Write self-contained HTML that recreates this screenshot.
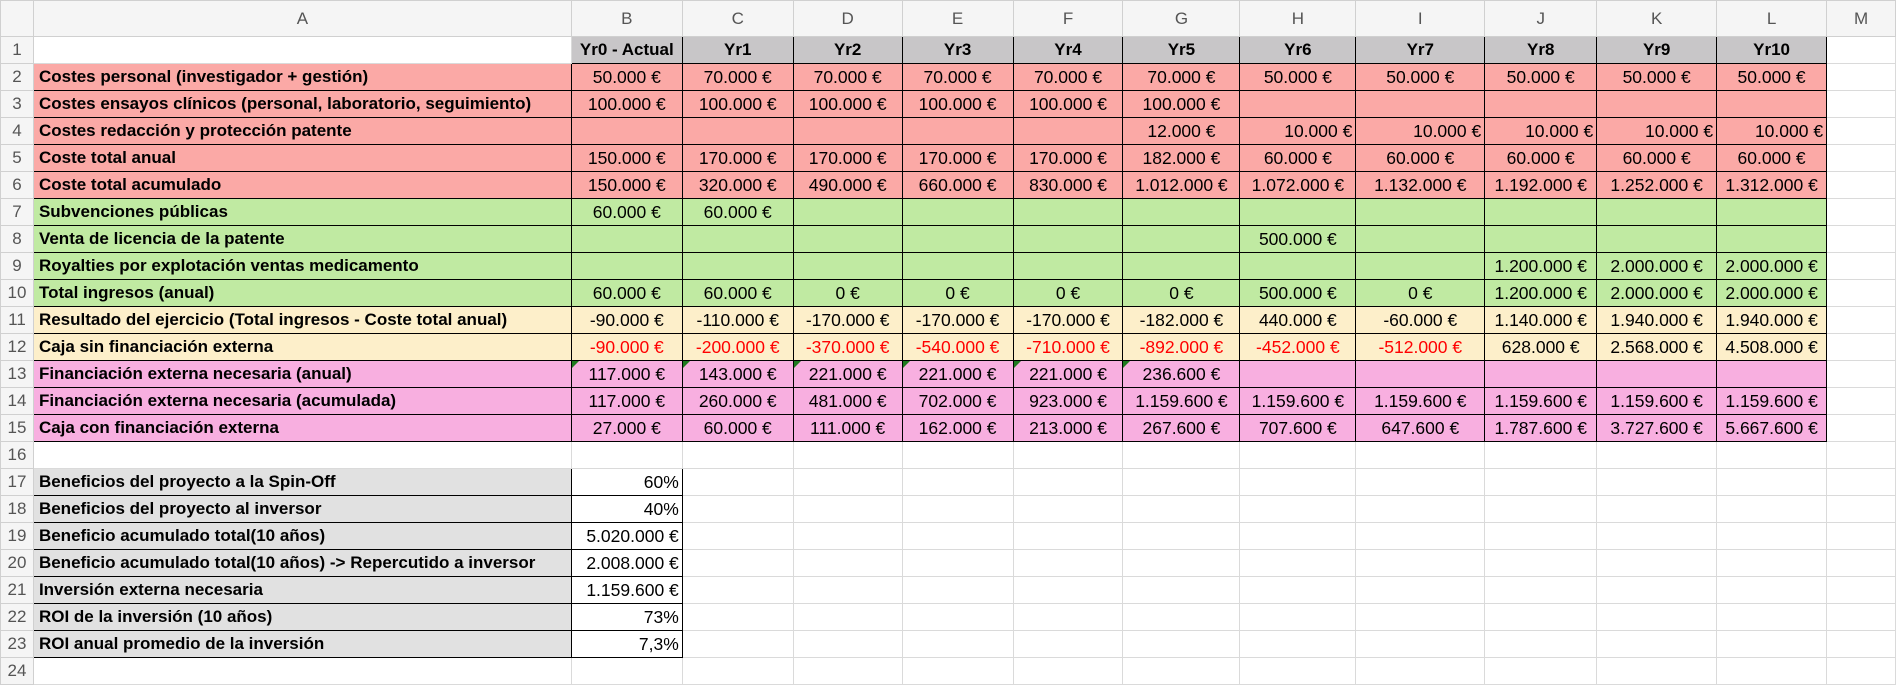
<!DOCTYPE html>
<html><head><meta charset="utf-8"><style>
html,body{margin:0;width:1896px;height:689px;overflow:hidden;background:#fff;font-family:"Liberation Sans",Arial,sans-serif;}
table{border-collapse:collapse;table-layout:fixed;position:absolute;left:0;top:0;}
td{height:26px;padding:0 3px;font-size:17.5px;white-space:nowrap;overflow:hidden;border:1px solid #dadada;text-align:center;color:#000;position:relative;line-height:26px;}
tr.h td{height:35px;background:#f5f5f5;color:#555;font-size:17px;border-color:#d0d0d0;}
td.n{background:#f5f5f5;color:#555;font-size:17px;text-align:center;padding:0;border-color:#d0d0d0;}
td.b{border:1px solid #000;}
td.l{text-align:left;font-weight:bold;padding-left:5px;font-size:17px;}
td.r{text-align:right;}
.g{background:#c8c6c8;font-weight:bold;font-size:17px !important;}
.R td.c{background:#fba9a6;}
.G td.c{background:#c0eaa2;}
.Y td.c{background:#fdefca;}
.P td.c{background:#f8afe0;}
.neg{color:#f00;}
.gr{background:#e1e1e1;}
.t::before{content:"";position:absolute;left:0;top:0;border-top:7px solid #1f7a1f;border-right:7px solid transparent;}
</style></head><body>
<table>
<colgroup><col style="width:33px"><col style="width:538px"><col style="width:111px"><col style="width:111px"><col style="width:109px"><col style="width:111px"><col style="width:110px"><col style="width:117px"><col style="width:116px"><col style="width:129px"><col style="width:112px"><col style="width:120px"><col style="width:110px"><col style="width:69px"></colgroup>
<tr class="h"><td></td><td>A</td><td>B</td><td>C</td><td>D</td><td>E</td><td>F</td><td>G</td><td>H</td><td>I</td><td>J</td><td>K</td><td>L</td><td>M</td></tr>
<tr><td class="n">1</td><td></td><td class="b g">Yr0 - Actual</td><td class="b g">Yr1</td><td class="b g">Yr2</td><td class="b g">Yr3</td><td class="b g">Yr4</td><td class="b g">Yr5</td><td class="b g">Yr6</td><td class="b g">Yr7</td><td class="b g">Yr8</td><td class="b g">Yr9</td><td class="b g">Yr10</td><td></td></tr>
<tr class="R"><td class="n">2</td><td class="b c l">Costes personal (investigador + gestión)</td><td class="b c">50.000 €</td><td class="b c">70.000 €</td><td class="b c">70.000 €</td><td class="b c">70.000 €</td><td class="b c">70.000 €</td><td class="b c">70.000 €</td><td class="b c">50.000 €</td><td class="b c">50.000 €</td><td class="b c">50.000 €</td><td class="b c">50.000 €</td><td class="b c">50.000 €</td><td></td></tr>
<tr class="R"><td class="n">3</td><td class="b c l">Costes ensayos clínicos (personal, laboratorio, seguimiento)</td><td class="b c">100.000 €</td><td class="b c">100.000 €</td><td class="b c">100.000 €</td><td class="b c">100.000 €</td><td class="b c">100.000 €</td><td class="b c">100.000 €</td><td class="b c"></td><td class="b c"></td><td class="b c"></td><td class="b c"></td><td class="b c"></td><td></td></tr>
<tr class="R"><td class="n">4</td><td class="b c l">Costes redacción y protección patente</td><td class="b c"></td><td class="b c"></td><td class="b c"></td><td class="b c"></td><td class="b c"></td><td class="b c">12.000 €</td><td class="b c r">10.000 €</td><td class="b c r">10.000 €</td><td class="b c r">10.000 €</td><td class="b c r">10.000 €</td><td class="b c r">10.000 €</td><td></td></tr>
<tr class="R"><td class="n">5</td><td class="b c l">Coste total anual</td><td class="b c">150.000 €</td><td class="b c">170.000 €</td><td class="b c">170.000 €</td><td class="b c">170.000 €</td><td class="b c">170.000 €</td><td class="b c">182.000 €</td><td class="b c">60.000 €</td><td class="b c">60.000 €</td><td class="b c">60.000 €</td><td class="b c">60.000 €</td><td class="b c">60.000 €</td><td></td></tr>
<tr class="R"><td class="n">6</td><td class="b c l">Coste total acumulado</td><td class="b c">150.000 €</td><td class="b c">320.000 €</td><td class="b c">490.000 €</td><td class="b c">660.000 €</td><td class="b c">830.000 €</td><td class="b c">1.012.000 €</td><td class="b c">1.072.000 €</td><td class="b c">1.132.000 €</td><td class="b c">1.192.000 €</td><td class="b c">1.252.000 €</td><td class="b c">1.312.000 €</td><td></td></tr>
<tr class="G"><td class="n">7</td><td class="b c l">Subvenciones públicas</td><td class="b c">60.000 €</td><td class="b c">60.000 €</td><td class="b c"></td><td class="b c"></td><td class="b c"></td><td class="b c"></td><td class="b c"></td><td class="b c"></td><td class="b c"></td><td class="b c"></td><td class="b c"></td><td></td></tr>
<tr class="G"><td class="n">8</td><td class="b c l">Venta de licencia de la patente</td><td class="b c"></td><td class="b c"></td><td class="b c"></td><td class="b c"></td><td class="b c"></td><td class="b c"></td><td class="b c">500.000 €</td><td class="b c"></td><td class="b c"></td><td class="b c"></td><td class="b c"></td><td></td></tr>
<tr class="G"><td class="n">9</td><td class="b c l">Royalties por explotación ventas medicamento</td><td class="b c"></td><td class="b c"></td><td class="b c"></td><td class="b c"></td><td class="b c"></td><td class="b c"></td><td class="b c"></td><td class="b c"></td><td class="b c">1.200.000 €</td><td class="b c">2.000.000 €</td><td class="b c">2.000.000 €</td><td></td></tr>
<tr class="G"><td class="n">10</td><td class="b c l">Total ingresos (anual)</td><td class="b c">60.000 €</td><td class="b c">60.000 €</td><td class="b c">0 €</td><td class="b c">0 €</td><td class="b c">0 €</td><td class="b c">0 €</td><td class="b c">500.000 €</td><td class="b c">0 €</td><td class="b c">1.200.000 €</td><td class="b c">2.000.000 €</td><td class="b c">2.000.000 €</td><td></td></tr>
<tr class="Y"><td class="n">11</td><td class="b c l">Resultado del ejercicio (Total ingresos - Coste total anual)</td><td class="b c">-90.000 €</td><td class="b c">-110.000 €</td><td class="b c">-170.000 €</td><td class="b c">-170.000 €</td><td class="b c">-170.000 €</td><td class="b c">-182.000 €</td><td class="b c">440.000 €</td><td class="b c">-60.000 €</td><td class="b c">1.140.000 €</td><td class="b c">1.940.000 €</td><td class="b c">1.940.000 €</td><td></td></tr>
<tr class="Y"><td class="n">12</td><td class="b c l">Caja sin financiación externa</td><td class="b c neg">-90.000 €</td><td class="b c neg">-200.000 €</td><td class="b c neg">-370.000 €</td><td class="b c neg">-540.000 €</td><td class="b c neg">-710.000 €</td><td class="b c neg">-892.000 €</td><td class="b c neg">-452.000 €</td><td class="b c neg">-512.000 €</td><td class="b c">628.000 €</td><td class="b c">2.568.000 €</td><td class="b c">4.508.000 €</td><td></td></tr>
<tr class="P"><td class="n">13</td><td class="b c l">Financiación externa necesaria (anual)</td><td class="b c t">117.000 €</td><td class="b c t">143.000 €</td><td class="b c t">221.000 €</td><td class="b c t">221.000 €</td><td class="b c t">221.000 €</td><td class="b c t">236.600 €</td><td class="b c"></td><td class="b c"></td><td class="b c"></td><td class="b c"></td><td class="b c"></td><td></td></tr>
<tr class="P"><td class="n">14</td><td class="b c l">Financiación externa necesaria (acumulada)</td><td class="b c">117.000 €</td><td class="b c">260.000 €</td><td class="b c">481.000 €</td><td class="b c">702.000 €</td><td class="b c">923.000 €</td><td class="b c">1.159.600 €</td><td class="b c">1.159.600 €</td><td class="b c">1.159.600 €</td><td class="b c">1.159.600 €</td><td class="b c">1.159.600 €</td><td class="b c">1.159.600 €</td><td></td></tr>
<tr class="P"><td class="n">15</td><td class="b c l">Caja con financiación externa</td><td class="b c">27.000 €</td><td class="b c">60.000 €</td><td class="b c">111.000 €</td><td class="b c">162.000 €</td><td class="b c">213.000 €</td><td class="b c">267.600 €</td><td class="b c">707.600 €</td><td class="b c">647.600 €</td><td class="b c">1.787.600 €</td><td class="b c">3.727.600 €</td><td class="b c">5.667.600 €</td><td></td></tr>
<tr><td class="n">16</td><td></td><td></td><td></td><td></td><td></td><td></td><td></td><td></td><td></td><td></td><td></td><td></td><td></td></tr>
<tr><td class="n">17</td><td class="b gr l">Beneficios del proyecto a la Spin-Off</td><td class="b r">60%</td><td></td><td></td><td></td><td></td><td></td><td></td><td></td><td></td><td></td><td></td><td></td></tr>
<tr><td class="n">18</td><td class="b gr l">Beneficios del proyecto al inversor</td><td class="b r">40%</td><td></td><td></td><td></td><td></td><td></td><td></td><td></td><td></td><td></td><td></td><td></td></tr>
<tr><td class="n">19</td><td class="b gr l">Beneficio acumulado total(10 años)</td><td class="b r">5.020.000 €</td><td></td><td></td><td></td><td></td><td></td><td></td><td></td><td></td><td></td><td></td><td></td></tr>
<tr><td class="n">20</td><td class="b gr l">Beneficio acumulado total(10 años) -&gt; Repercutido a inversor</td><td class="b r">2.008.000 €</td><td></td><td></td><td></td><td></td><td></td><td></td><td></td><td></td><td></td><td></td><td></td></tr>
<tr><td class="n">21</td><td class="b gr l">Inversión externa necesaria</td><td class="b r">1.159.600 €</td><td></td><td></td><td></td><td></td><td></td><td></td><td></td><td></td><td></td><td></td><td></td></tr>
<tr><td class="n">22</td><td class="b gr l">ROI de la inversión (10 años)</td><td class="b r">73%</td><td></td><td></td><td></td><td></td><td></td><td></td><td></td><td></td><td></td><td></td><td></td></tr>
<tr><td class="n">23</td><td class="b gr l">ROI anual promedio de la inversión</td><td class="b r">7,3%</td><td></td><td></td><td></td><td></td><td></td><td></td><td></td><td></td><td></td><td></td><td></td></tr>
<tr><td class="n">24</td><td></td><td></td><td></td><td></td><td></td><td></td><td></td><td></td><td></td><td></td><td></td><td></td><td></td></tr>
</table>
</body></html>
